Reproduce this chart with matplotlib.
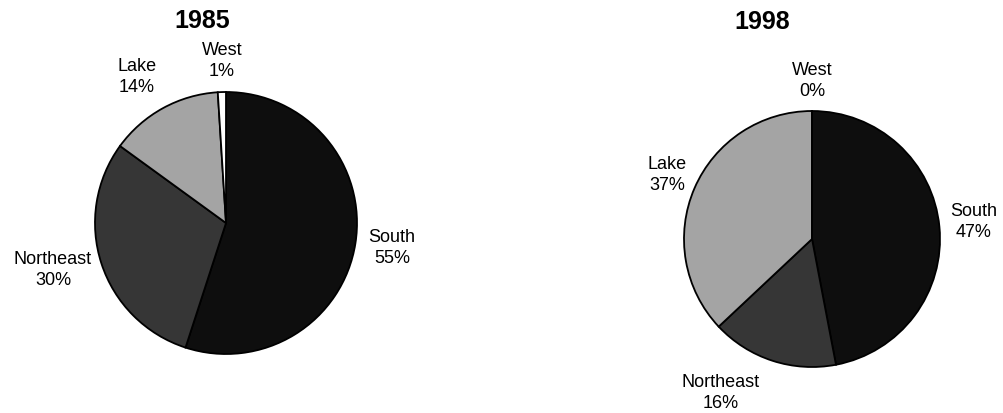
import matplotlib.pyplot as plt

# data
regions = ["South", "Northeast", "Lake", "West"]
share_1985 = [55, 30, 14, 1]
share_1998 = [47, 16, 37, 0]
years = ["1985", "1998"]

colors = ["#0e0e0e", "#363636", "#a4a4a4", "#ffffff"]

plt.rcParams["font.family"] = ["Liberation Sans", "DejaVu Sans"]

W, H = 1004, 414
fig = plt.figure(figsize=(W / 100, H / 100), dpi=100)
ax = fig.add_axes([0, 0, 1, 1])

# pie layout in pixel coords (y up)
pies = [
    {"center": (226, H - 224), "radius": 131, "title": (202, H - 21),
     "labels": [(392, H - 248), (53, H - 270), (137, H - 77), (222, H - 61)]},
    {"center": (812, H - 240), "radius": 128, "title": (762, H - 22),
     "labels": [(974, H - 222), (721, H - 393), (667, H - 175), (812, H - 81)]},
]

for vals, year, p in zip([share_1985, share_1998], years, pies):
    ax.pie(vals, colors=colors, startangle=90, counterclock=False,
           center=p["center"], radius=p["radius"], frame=True,
           wedgeprops={"edgecolor": "black", "linewidth": 1.3})
    ax.text(p["title"][0], p["title"][1], year, ha="center", va="center",
            fontsize=18, fontweight="bold")
    for name, v, (x, y) in zip(regions, vals, p["labels"]):
        ax.text(x, y, f"{name}\n{v}%", ha="center", va="center",
                fontsize=13, linespacing=1.25)

ax.set_xlim(0, W)
ax.set_ylim(0, H)
ax.set_aspect("equal")
ax.axis("off")

fig.savefig("out.png", dpi=100, facecolor="white")
